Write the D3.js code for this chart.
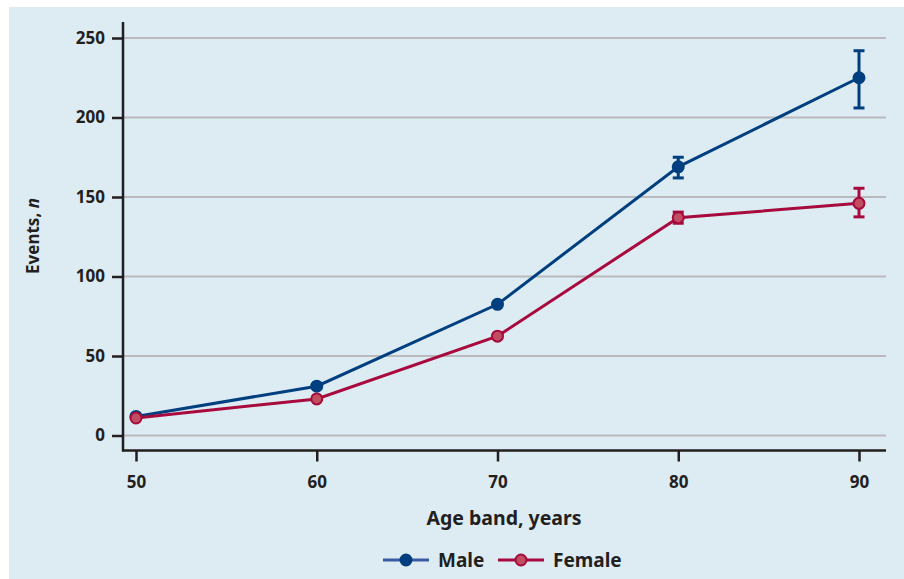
<!DOCTYPE html>
<html>
<head>
<meta charset="utf-8">
<script src="https://cdn.jsdelivr.net/npm/d3@7"></script>
<style>
  body { margin: 0; background: #fff; }
  svg { display: block; font-family: "Noto Sans", "DejaVu Sans", sans-serif; font-weight: bold; }
</style>
</head>
<body>
<svg id="chart" width="904" height="579"></svg>
<script>
// age bands and event counts
const ages = [50, 60, 70, 80, 90];
const yTicks = [0, 50, 100, 150, 200, 250];

const maleValues = [12, 31, 82.5, 169, 225];
const maleLow = [null, null, null, 162, 206];
const maleHigh = [null, null, null, 175, 242];

const femaleValues = [11, 23, 62.5, 137, 146];
const femaleLow = [null, null, null, 133.5, 137.5];
const femaleHigh = [null, null, null, 140.5, 155.5];

const maleColor = '#003f7f';
const femaleColor = '#a80a3e';

const svg = d3.select('#chart');

// light blue panel
svg.append('rect')
    .attr('x', 9).attr('y', 7)
    .attr('width', 895).attr('height', 572)
    .attr('fill', '#ddebf3');

const x = d3.scaleLinear().domain([50, 90]).range([136, 859]);
const y = d3.scaleLinear().domain([0, 250]).range([435.5, 38]);

// gridlines
svg.append('g')
    .selectAll('line')
    .data(yTicks)
    .enter().append('line')
    .attr('x1', 123).attr('x2', 886)
    .attr('y1', d => y(d)).attr('y2', d => y(d))
    .attr('stroke', '#b9babe')
    .attr('stroke-width', 2);

// axes
const yAxis = svg.append('g')
    .attr('transform', 'translate(123,0)')
    .call(d3.axisLeft(y).tickValues(yTicks).tickSize(11).tickPadding(7));
const xAxis = svg.append('g')
    .attr('transform', 'translate(0,450.5)')
    .call(d3.axisBottom(x).tickValues(ages).tickSize(11).tickPadding(14));

[yAxis, xAxis].forEach(g => {
    g.select('.domain').remove();
    g.selectAll('.tick line').attr('stroke', '#231f20').attr('stroke-width', 2.5);
    g.selectAll('.tick text')
        .attr('fill', '#231f20')
        .style('font-size', '17px')
        .style('font-family', '"Noto Sans", sans-serif')
        .style('font-weight', 'bold');
});

// axis lines
svg.append('line')
    .attr('x1', 123).attr('x2', 123).attr('y1', 22).attr('y2', 451.5)
    .attr('stroke', '#231f20').attr('stroke-width', 2.5);
svg.append('line')
    .attr('x1', 122).attr('x2', 886).attr('y1', 450.5).attr('y2', 450.5)
    .attr('stroke', '#231f20').attr('stroke-width', 2.5);

// axis titles
svg.append('text')
    .attr('x', 504).attr('y', 525)
    .attr('text-anchor', 'middle')
    .attr('fill', '#231f20')
    .style('font-size', '19.5px')
    .text('Age band, years');

const yTitle = svg.append('text')
    .attr('transform', 'translate(39,236) rotate(-90)')
    .attr('text-anchor', 'middle')
    .attr('fill', '#231f20')
    .style('font-size', '17px');
yTitle.append('tspan').text('Events, ');
yTitle.append('tspan').style('font-style', 'italic').text('n');

function drawSeries(values, low, high, color, markerFill) {
    const pts = ages.map((a, i) => ({ age: a, value: values[i], low: low[i], high: high[i] }));
    const line = d3.line().x(d => x(d.age)).y(d => y(d.value));

    svg.append('path')
        .datum(pts)
        .attr('fill', 'none')
        .attr('stroke', color)
        .attr('stroke-width', 3)
        .attr('d', line);

    const bars = pts.filter(d => d.low != null);
    const eb = svg.append('g').attr('stroke', color).attr('stroke-width', 3);
    eb.selectAll('.v').data(bars).enter().append('line')
        .attr('x1', d => x(d.age)).attr('x2', d => x(d.age))
        .attr('y1', d => y(d.low)).attr('y2', d => y(d.high));
    eb.selectAll('.lo').data(bars).enter().append('line')
        .attr('x1', d => x(d.age) - 5.5).attr('x2', d => x(d.age) + 5.5)
        .attr('y1', d => y(d.low)).attr('y2', d => y(d.low));
    eb.selectAll('.hi').data(bars).enter().append('line')
        .attr('x1', d => x(d.age) - 5.5).attr('x2', d => x(d.age) + 5.5)
        .attr('y1', d => y(d.high)).attr('y2', d => y(d.high));

    svg.append('g')
        .selectAll('circle')
        .data(pts)
        .enter().append('circle')
        .attr('cx', d => x(d.age))
        .attr('cy', d => y(d.value))
        .attr('r', 5.5)
        .attr('fill', markerFill)
        .attr('stroke', color)
        .attr('stroke-width', 2);
}

drawSeries(maleValues, maleLow, maleHigh, maleColor, maleColor);
drawSeries(femaleValues, femaleLow, femaleHigh, femaleColor, '#c04d60');

// legend
const legendItems = [
    { label: 'Male', line: '#3a5aa8', color: maleColor, fill: maleColor, x: 383 },
    { label: 'Female', line: femaleColor, color: femaleColor, fill: '#c04d60', x: 498 }
];
const legend = svg.append('g').attr('transform', 'translate(0,560)');
legendItems.forEach(it => {
    legend.append('line')
        .attr('x1', it.x).attr('x2', it.x + 46)
        .attr('stroke', it.line).attr('stroke-width', 3);
    legend.append('circle')
        .attr('cx', it.x + 23).attr('r', 5.5)
        .attr('fill', it.fill).attr('stroke', it.color).attr('stroke-width', 2);
    legend.append('text')
        .attr('x', it.x + 55).attr('y', 7)
        .attr('fill', '#231f20')
        .style('font-size', '19px')
        .text(it.label);
});
</script>
</body>
</html>
